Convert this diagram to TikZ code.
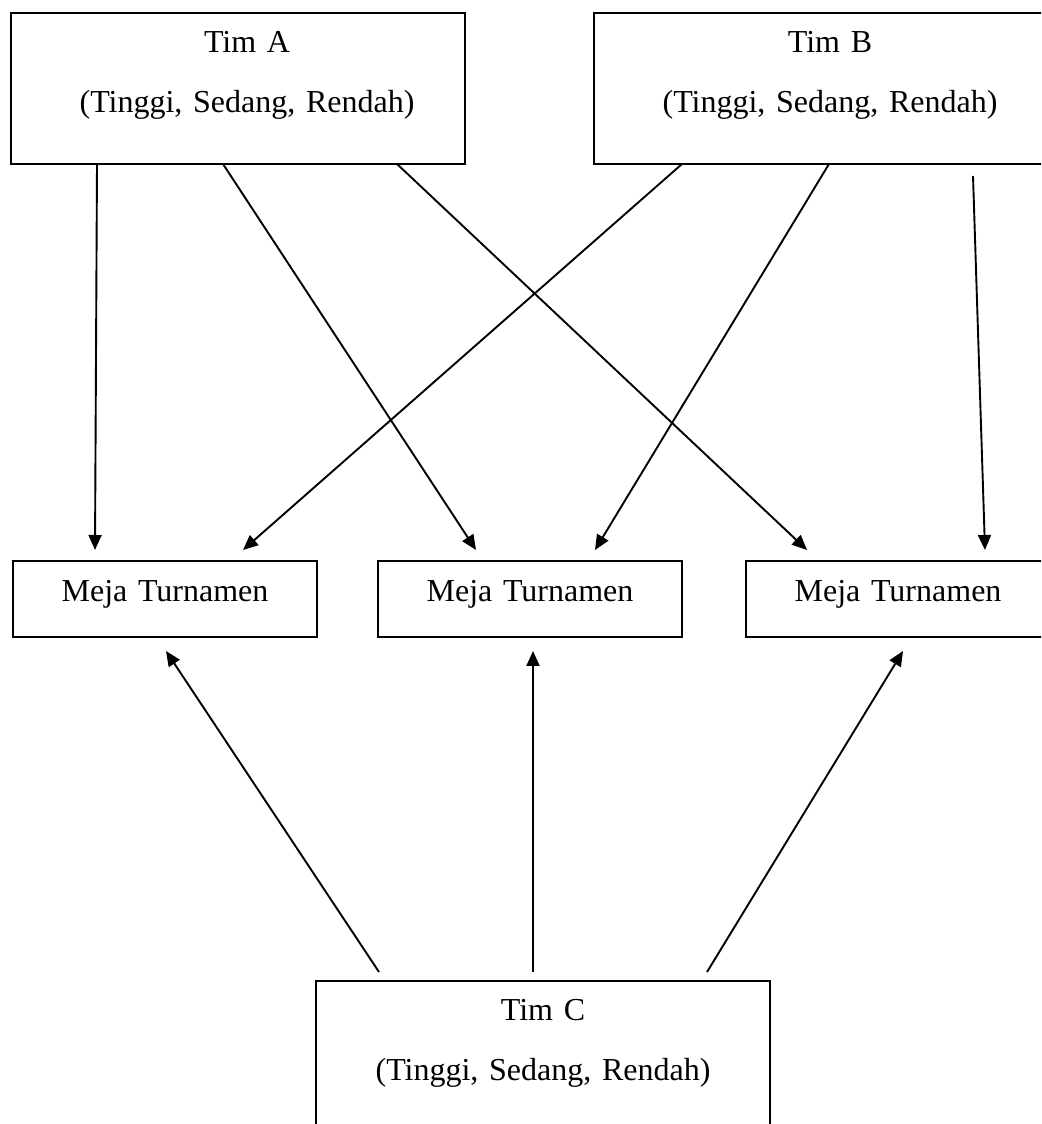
\documentclass[tikz,border=0pt]{standalone}
\usepackage{fontspec}
\setmainfont{Liberation Serif}
\usetikzlibrary{arrows.meta,positioning}

\begin{document}
\begin{tikzpicture}[
  x=1pt, y=1pt,
  font=\fontsize{16}{19}\selectfont,
  >={Triangle[length=7.5pt, width=6.5pt]},
  tim/.style={rectangle, draw=black, line width=1pt, inner sep=0pt, outer sep=0pt,
              text width=227pt, align=center, text height=20pt, text depth=55.5pt},
  meja/.style={rectangle, draw=black, line width=1pt, inner sep=0pt, outer sep=0pt,
               text width=152pt, align=center, text height=20.5pt, text depth=17.5pt},
  panah/.style={->, line width=0.95pt, draw=black},
]
\useasboundingbox (0,0) rectangle (520.5,562);
\clip (0,0) rectangle (520.5,562);

\node[tim, anchor=north west]  (timA) at (5.5,555.5) {\hspace*{9pt}Tim A\\[11pt]\hspace*{9pt}(Tinggi, Sedang, Rendah)};
\node[tim, anchor=north west]  (timB) at (297,555.5) {\hspace*{9pt}Tim B\\[11pt]\hspace*{9pt}(Tinggi, Sedang, Rendah)};

\node[meja, anchor=north west] (meja1) at (6.5,281.5) {Meja Turnamen};
\node[meja, anchor=north west] (meja2) at (189,281.5) {Meja Turnamen};
\node[meja, anchor=north west] (meja3) at (373,281.5) {Meja Turnamen};

\node[tim, anchor=north west]  (timC) at (158,71.5) {Tim C\\[11pt](Tinggi, Sedang, Rendah)};

% dari tim A dan tim B ke meja
\draw[panah] ([xshift=43pt]timA.south west) -- ([xshift=41pt,yshift=5.5pt]meja1.north west);
\draw[panah] ([xshift=106pt]timA.south west) -- ([xshift=49pt,yshift=5.5pt]meja2.north west);
\draw[panah] ([xshift=193pt]timA.south west) -- ([xshift=30.5pt,yshift=5.5pt]meja3.north west);
\draw[panah] ([xshift=44pt]timB.south west) -- ([xshift=115pt,yshift=5.5pt]meja1.north west);
\draw[panah] ([xshift=117.5pt]timB.south west) -- ([xshift=108.5pt,yshift=5.5pt]meja2.north west);
\draw[panah] ([xshift=189.5pt,yshift=-6pt]timB.south west) -- ([xshift=119.5pt,yshift=5.5pt]meja3.north west);

% dari tim C ke meja
\draw[panah] ([xshift=31.5pt,yshift=4.5pt]timC.north west) -- ([xshift=76.5pt,yshift=-7pt]meja1.south west);
\draw[panah] ([xshift=108.5pt,yshift=4.5pt]timC.north west) -- ([xshift=77.5pt,yshift=-7pt]meja2.south west);
\draw[panah] ([xshift=195.5pt,yshift=4.5pt]timC.north west) -- ([xshift=78.5pt,yshift=-7pt]meja3.south west);

\end{tikzpicture}
\end{document}
